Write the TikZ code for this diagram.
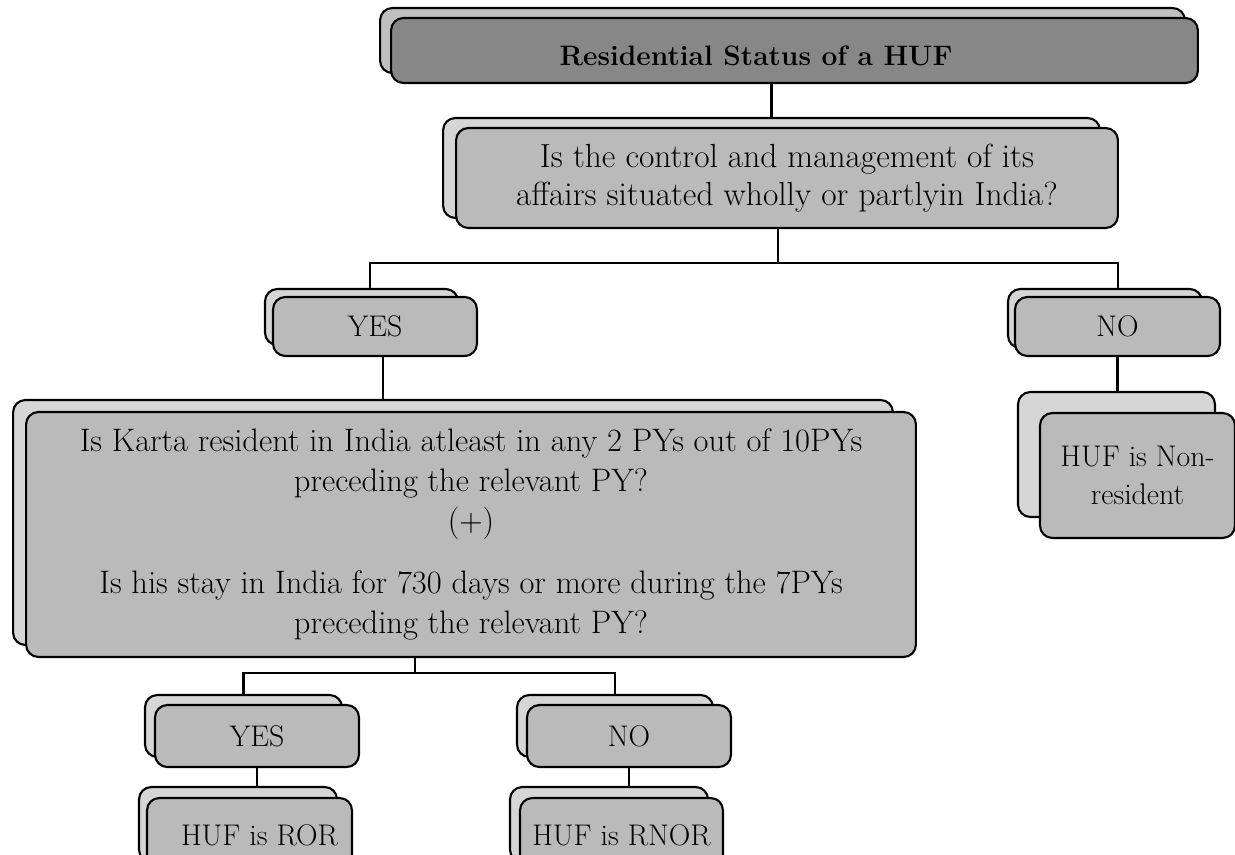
\documentclass[tikz,border=0pt]{standalone}
\usetikzlibrary{positioning}

\begin{document}
\begin{tikzpicture}[x=0.02cm, y=-0.02cm,
  backbox/.style={draw, line width=1.2pt, rounded corners=7pt, fill=black!16, inner sep=0pt},
  frontbox/.style={draw, line width=1.2pt, rounded corners=7pt, fill=black!27, inner sep=0pt, align=center,
    font=\fontsize{17}{22}\selectfont},
  link/.style={line width=1.2pt}]
\clip (0,0) rectangle (1235,855);

% heading
\node[backbox, fill=black!25, minimum width=16.1cm, minimum height=1.3cm] (topB) at (782.5,40.5) {};
\node[frontbox, fill=black!47, minimum width=16.14cm, minimum height=1.3cm] (topF) at (794.5,50.5) {};
\node[font=\fontsize{16}{22}\selectfont\bfseries] (topT) at (756,56) {Residential Status of a HUF};

\node[backbox, minimum width=13.14cm, minimum height=2cm] (ctrlB) at (771.5,168) {};
\node[frontbox, font=\fontsize{19}{21.5}\selectfont, minimum width=13.24cm, minimum height=2cm] (ctrlF) at (787,178)
  {Is the control and management of its\\ affairs situated wholly or partlyin India?};

\node[backbox, minimum width=3.86cm, minimum height=1.12cm] (yesB) at (361.5,317) {};
\node[frontbox, minimum width=4.08cm, minimum height=1.18cm] (yesF) at (375,326.5) {YES};

\node[backbox, minimum width=3.88cm, minimum height=1.18cm] (noB) at (1105,318.5) {};
\node[frontbox, minimum width=4.1cm, minimum height=1.18cm] (noF) at (1117.5,326.5) {NO};

\node[backbox, minimum width=3.94cm, minimum height=2.5cm] (nonresB) at (1116.5,454.5) {};
\node[frontbox, minimum width=3.9cm, minimum height=2.5cm] (nonresF) at (1137.5,475.5) {HUF is Non-\\resident};

% karta test
\node[backbox, minimum width=17.6cm, minimum height=4.9cm] (kartaB) at (453,522.5) {};
\node[frontbox, font=\fontsize{18.5}{22.8}\selectfont, minimum width=17.8cm, minimum height=4.9cm] (kartaF) at (471,534.5)
  {Is Karta resident in India atleast in any 2 PYs out of 10PYs\\
   preceding the relevant PY?\\ (+)\\[0.45cm]
   Is his stay in India for 730 days or more during the 7PYs\\
   preceding the relevant PY?};

\node[backbox, minimum width=3.94cm, minimum height=1.24cm] (yestwoB) at (243.5,726) {};
\node[frontbox, minimum width=4.08cm, minimum height=1.24cm] (yestwoF) at (257,736) {YES};

\node[backbox, minimum width=3.92cm, minimum height=1.24cm] (notwoB) at (615,726) {};
\node[frontbox, minimum width=4.08cm, minimum height=1.24cm] (notwoF) at (629,736) {NO};

\node[backbox, minimum width=3.96cm, minimum height=1.5cm] (rorB) at (238,824.5) {};
\node[frontbox, minimum width=4.1cm, minimum height=1.48cm] (rorF) at (249.5,835) {\hspace{0.4cm}HUF is ROR};

\node[backbox, minimum width=3.96cm, minimum height=1.5cm] (rnorB) at (609,824.5) {};
\node[frontbox, minimum width=4.06cm, minimum height=1.48cm] (rnorF) at (621.5,835) {HUF is RNOR};

% connectors
\draw[link] (ctrlB.north) -- (ctrlB.north |- topF.south);
\draw[link] ([xshift=-0.18cm]ctrlF.south) -- ++(0,34) -| ([xshift=0.17cm]yesB.north);
\draw[link] ([xshift=-0.18cm]ctrlF.south) ++(0,34) -| ([xshift=0.26cm]noB.north);
\draw[link] ([xshift=0.16cm]yesF.south) -- ([xshift=0.16cm]yesF.south |- kartaB.north);
\draw[link] (noF.south) -- (noF.south |- nonresB.north);
\draw[link] ([xshift=-1.12cm]kartaF.south) -- ++(0,15) -| (yestwoB.north);
\draw[link] ([xshift=-1.12cm]kartaF.south) ++(0,15) -| (notwoB.north);
\draw[link] (yestwoF.south) -- (yestwoF.south |- rorB.north);
\draw[link] (notwoF.south) -- (notwoF.south |- rnorB.north);
\end{tikzpicture}
\end{document}
